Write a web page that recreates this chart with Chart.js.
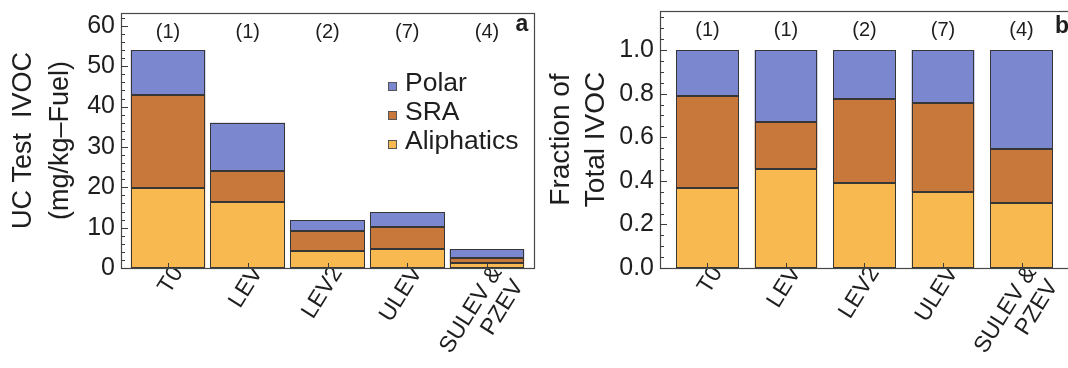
<!DOCTYPE html>
<html>
<head>
<meta charset="utf-8">
<script src="https://cdn.jsdelivr.net/npm/chart.js@4.4.1/dist/chart.umd.min.js"></script>
<style>
  html, body { margin: 0; padding: 0; background: #fff; overflow: hidden; width: 1068px; height: 368px; }
  .panel { position: absolute; top: 0; width: 540px; height: 368px; }
  #panelA { left: 0; }
  #panelB { left: 540px; }
</style>
</head>
<body>
<div class="panel" id="panelA"><canvas id="chartA" width="540" height="368"></canvas></div>
<div class="panel" id="panelB"><canvas id="chartB" width="540" height="368"></canvas></div>
<script>
// Vehicle emission-standard classes and number of vehicles tested in each
const categories = ['T0', 'LEV', 'LEV2', 'ULEV', ['SULEV &', 'PZEV']];
const sampleCounts = ['(1)', '(1)', '(2)', '(7)', '(4)'];
const seriesNames = ['Aliphatics', 'SRA', 'Polar'];

// UC test IVOC emission factors, mg/kg-fuel
const ivocAliphatics = [19.8, 16.3, 4.3, 4.6, 1.15];
const ivocSRA        = [23.1, 7.75, 4.9, 5.65, 1.25];
const ivocPolar      = [11.15, 11.95, 2.6, 3.55, 2.2];

// Fraction of total IVOC
const fracAliphatics = [0.366, 0.455, 0.388, 0.348, 0.296];
const fracSRA        = [0.423, 0.214, 0.386, 0.409, 0.249];
const fracPolar      = [0.211, 0.331, 0.226, 0.243, 0.455];

// Axis tick values
const xTickValues = [0, 1, 2, 3, 4];
const yTicksIvoc = [0, 10, 20, 30, 40, 50, 60];
const yTicksFrac = [0, 0.2, 0.4, 0.6, 0.8, 1.0];

const FONT = "'Liberation Sans', Arial, sans-serif";
const TEXT = '#1e1e1e';
const COLORS = { Aliphatics: '#f8b950', SRA: '#c7783a', Polar: '#7b88d0' };
const LABEL_ANGLE = 58;

Chart.defaults.font.family = FONT;
Chart.defaults.color = TEXT;

function toPoints(values) {
  return values.map((v, i) => ({ x: i, y: v }));
}

function buildDatasets(aliphatics, sra, polar) {
  return [
    { label: seriesNames[0], data: toPoints(aliphatics), backgroundColor: COLORS.Aliphatics },
    { label: seriesNames[1], data: toPoints(sra), backgroundColor: COLORS.SRA },
    { label: seriesNames[2], data: toPoints(polar), backgroundColor: COLORS.Polar }
  ];
}

// Crisp segment outlines, frame with inward ticks, counts and panel letter
const framePlugin = {
  id: 'frame',
  afterDatasetsDraw(chart, args, opts) {
    const { ctx, chartArea: a, scales: { x, y } } = chart;
    ctx.save();

    // outline every stacked segment on whole pixels
    ctx.strokeStyle = '#363636';
    ctx.lineWidth = 1;
    chart.data.datasets.forEach((ds, di) => {
      chart.getDatasetMeta(di).data.forEach(bar => {
        const p = bar.getProps(['x', 'y', 'base', 'width'], true);
        const l = Math.round(p.x - p.width / 2) + 0.5;
        const r = Math.round(p.x + p.width / 2) - 0.5;
        const t = Math.round(Math.min(p.y, p.base)) + 0.5;
        const b = Math.round(Math.max(p.y, p.base)) - 0.5;
        ctx.strokeRect(l, t, r - l, b - t);
      });
    });

    ctx.strokeStyle = '#474747';
    ctx.lineWidth = 1.2;
    ctx.strokeRect(a.left + 0.5, a.top + 0.5, a.right - a.left, a.bottom - a.top);

    ctx.lineWidth = 1;
    ctx.strokeStyle = '#3c3c3c';
    ctx.beginPath();
    const n = Math.floor(y.max / opts.minorStep + 1e-6);
    for (let k = 0; k <= n; k++) {
      const py = Math.round(y.getPixelForValue(k * opts.minorStep)) + 0.5;
      const len = (k % opts.minorPerMajor === 0) ? 7 : 4;
      ctx.moveTo(a.left, py);
      ctx.lineTo(a.left + len, py);
    }
    xTickValues.forEach(v => {
      const px = Math.round(x.getPixelForValue(v)) + 0.5;
      ctx.moveTo(px, a.bottom);
      ctx.lineTo(px, a.bottom - 5);
    });
    ctx.stroke();
    ctx.restore();
  },
  afterDraw(chart, args, opts) {
    const { ctx, scales: { x } } = chart;
    ctx.save();
    ctx.fillStyle = TEXT;
    ctx.textAlign = 'center';
    ctx.textBaseline = 'middle';
    ctx.font = `20px ${FONT}`;
    sampleCounts.forEach((t, i) => ctx.fillText(t, x.getPixelForValue(i), opts.countsY));
    ctx.font = `bold 23px ${FONT}`;
    ctx.fillText(opts.letter, opts.letterX, opts.letterY);
    ctx.restore();
  }
};

// Legend drawn inside the plot area, top entry first
const insideLegend = {
  id: 'insideLegend',
  afterDraw(chart, args, opts) {
    if (!opts.show) return;
    const { ctx } = chart;
    const items = chart.data.datasets.slice().reverse();
    ctx.save();
    ctx.font = `26.5px ${FONT}`;
    ctx.textAlign = 'left';
    ctx.textBaseline = 'middle';
    items.forEach((ds, i) => {
      const cy = opts.y + i * opts.rowGap;
      ctx.fillStyle = ds.backgroundColor;
      ctx.fillRect(opts.x, cy - 2, 9, 9);
      ctx.strokeStyle = '#555';
      ctx.lineWidth = 1;
      ctx.strokeRect(opts.x + 0.5, cy - 1.5, 8, 8);
      ctx.fillStyle = TEXT;
      ctx.fillText(ds.label, opts.x + 17, cy);
    });
    ctx.restore();
  }
};

function makeChart(id, datasets, cfg) {
  return new Chart(document.getElementById(id), {
    type: 'bar',
    data: { datasets },
    plugins: [framePlugin, insideLegend],
    options: {
      responsive: false,
      animation: false,
      devicePixelRatio: 1,
      layout: { padding: { top: cfg.padTop, right: cfg.padRight, left: 0, bottom: 0 } },
      datasets: {
        bar: {
          barPercentage: cfg.barPct,
          categoryPercentage: 1,
          borderWidth: 0
        }
      },
      plugins: {
        legend: { display: false },
        tooltip: { enabled: false },
        frame: cfg.frame,
        insideLegend: cfg.legend
      },
      scales: {
        x: {
          type: 'linear',
          stacked: true,
          offset: false,
          min: cfg.xMin,
          max: cfg.xMax,
          grid: { display: false, drawTicks: false, offset: false },
          border: { display: false },
          afterBuildTicks: s => { s.ticks = xTickValues.map(v => ({ value: v })); },
          afterCalculateLabelRotation: s => { s.labelRotation = LABEL_ANGLE; },
          afterFit: s => {
            s.height = 100;
            s.paddingLeft = 0; s.paddingRight = 0; s.paddingTop = 0; s.paddingBottom = 0;
          },
          ticks: {
            autoSkip: false,
            minRotation: LABEL_ANGLE,
            maxRotation: LABEL_ANGLE,
            padding: -6,
            labelOffset: 10,
            color: TEXT,
            font: { size: 23, lineHeight: 1.1 },
            callback: v => categories[v]
          }
        },
        y: {
          type: 'linear',
          stacked: true,
          min: 0,
          max: cfg.yMax,
          grid: { display: false, drawTicks: false },
          border: { display: false },
          afterBuildTicks: s => { s.ticks = cfg.yTicks.map(v => ({ value: v })); },
          afterFit: s => {
            s.width = cfg.yWidth;
            s.paddingLeft = 0; s.paddingRight = 0; s.paddingTop = 0; s.paddingBottom = 0;
          },
          ticks: {
            padding: 6,
            color: TEXT,
            font: { size: 25, lineHeight: 1.0 },
            callback: cfg.yFmt
          },
          title: {
            display: true,
            text: cfg.yTitle,
            color: TEXT,
            font: { size: cfg.titleSize, lineHeight: cfg.titleLH },
            padding: { top: cfg.titlePad, bottom: 0 }
          }
        }
      }
    }
  });
}

makeChart('chartA', buildDatasets(ivocAliphatics, ivocSRA, ivocPolar), {
  padTop: 13, padRight: 6, barPct: 0.935,
  xMin: -0.59, xMax: 4.59, yMax: 63.2, yWidth: 121,
  yTicks: yTicksIvoc, yFmt: v => String(v),
  yTitle: ['UC Test  IVOC', '(mg/kg\u2013Fuel)'], titleSize: 27, titleLH: 1.37, titlePad: 5,
  frame: { minorStep: 2, minorPerMajor: 5, countsY: 32, letter: 'a', letterX: 522, letterY: 25 },
  legend: { show: true, x: 388, y: 84, rowGap: 29 }
});

makeChart('chartB', buildDatasets(fracAliphatics, fracSRA, fracPolar), {
  padTop: 11, padRight: 11, barPct: 0.80,
  xMin: -0.605, xMax: 4.605, yMax: 1.179, yWidth: 120,
  yTicks: yTicksFrac, yFmt: v => Number(v).toFixed(1),
  yTitle: ['Fraction of', 'Total IVOC'], titleSize: 28, titleLH: 1.25, titlePad: 4,
  frame: { minorStep: 0.05, minorPerMajor: 4, countsY: 30, letter: 'b', letterX: 522, letterY: 27 },
  legend: { show: false }
});
</script>
</body>
</html>
